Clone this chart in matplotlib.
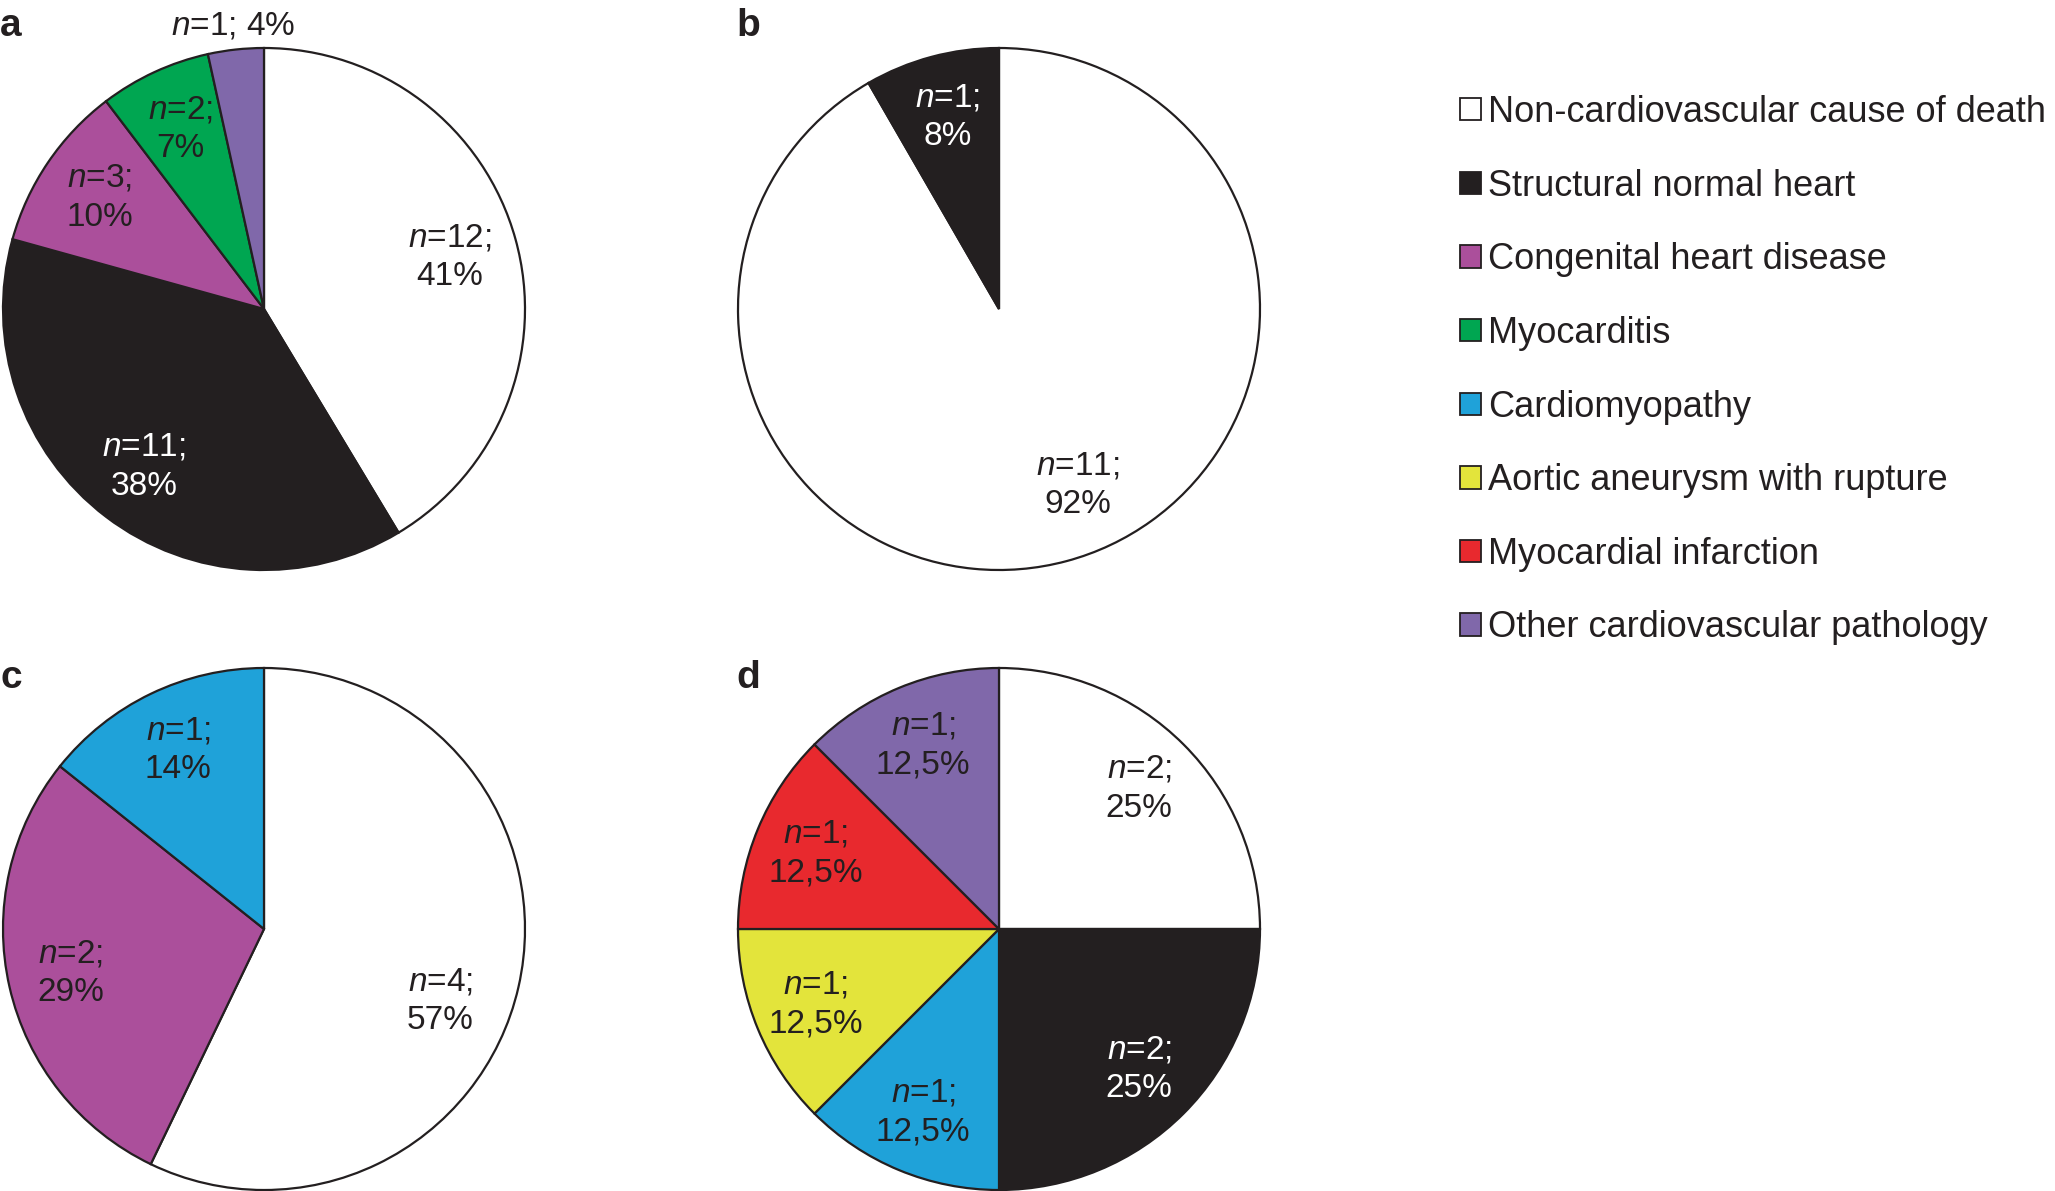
import numpy as np
import matplotlib
matplotlib.use("Agg")
import matplotlib.pyplot as plt
from matplotlib.patches import Patch

plt.rcParams['font.family'] = ['Liberation Sans', 'DejaVu Sans']
plt.rcParams['mathtext.fontset'] = 'custom'
plt.rcParams['mathtext.rm'] = 'Liberation Sans'
plt.rcParams['mathtext.it'] = 'Liberation Sans:italic'

# ---- data ----
categories = ["Non-cardiovascular cause of death", "Structural normal heart",
              "Congenital heart disease", "Myocarditis", "Cardiomyopathy",
              "Aortic aneurysm with rupture", "Myocardial infarction",
              "Other cardiovascular pathology"]
colors = ["#ffffff", "#231f20", "#ab4f9b", "#00a651", "#1fa2d9",
          "#e3e43b", "#e8292e", "#8068aa"]

a_cats = [0, 1, 2, 3, 7]
a_n = [12, 11, 3, 2, 1]
a_pct = ["41", "38", "10", "7", "4"]

b_cats = [0, 1]
b_n = [11, 1]
b_pct = ["92", "8"]

c_cats = [0, 2, 4]
c_n = [4, 2, 1]
c_pct = ["57", "29", "14"]

d_cats = [0, 1, 4, 5, 6, 7]
d_n = [2, 2, 1, 1, 1, 1]
d_pct = ["25", "25", "12,5", "12,5", "12,5", "12,5"]

panels = [("a", a_cats, a_n, a_pct), ("b", b_cats, b_n, b_pct),
          ("c", c_cats, c_n, c_pct), ("d", d_cats, d_n, d_pct)]

# ---- layout ----
W, H = 2055, 1191
centers = [(264, 309), (999, 309), (264, 929), (999, 929)]
R = 261
L = 1.3
letter_pos = [(0, 36), (736, 36), (0, 688), (736, 688)]
# label angle nudges (degrees) / distances for a few large slices
angle_nudge = {("b", 0): 9.0, ("c", 0): -9.4}
dist_override = {("b", 0): 0.74, ("c", 0): 0.73, ("a", 0): 0.74}
txtcol = "#231f20"

fig = plt.figure(figsize=(W / 100, H / 100), dpi=100)
fig.patch.set_facecolor("white")

for (letter, cats, ns, pcts), (cx, cy), (lx, ly) in zip(panels, centers, letter_pos):
    ax = fig.add_axes([(cx - L * R) / W, (H - cy - L * R) / H, 2 * L * R / W, 2 * L * R / H])
    cols = [colors[k] for k in cats]
    wedges, _ = ax.pie(ns, colors=cols, startangle=90, counterclock=False, radius=1,
                       wedgeprops=dict(edgecolor=txtcol, linewidth=1.6, clip_on=False))
    ax.set_aspect('equal')
    ax.set_xlim(-L, L)
    ax.set_ylim(-L, L)
    ax.axis('off')
    for i, (w, k, n, p) in enumerate(zip(wedges, cats, ns, pcts)):
        mid_deg = (w.theta1 + w.theta2) / 2 + angle_nudge.get((letter, i), 0.0)
        mid = np.deg2rad(mid_deg)
        tc = "white" if k == 1 else txtcol
        if letter == "a" and k == 7:
            d = 1.09
            s = f"$n$={n}; {p}%"
        else:
            d = dist_override.get((letter, i), 0.76)
            s = f"$n$={n};\n{p}%"
        ax.text(d * np.cos(mid), d * np.sin(mid), s, ha='center', va='center',
                fontsize=24, color=tc, linespacing=1.33, clip_on=False)
    fig.text(lx / W, 1 - ly / H, letter, fontsize=28, fontweight='bold',
             color=txtcol, ha='left', va='baseline')

handles = [Patch(facecolor=c, edgecolor=txtcol, linewidth=1.3) for c in colors]
leg = fig.legend(handles, categories, loc='upper left',
                 bbox_to_anchor=(1460 / W, 1 - 95 / H), bbox_transform=fig.transFigure,
                 frameon=False, fontsize=26, handlelength=0.58, handleheight=0.58,
                 handletextpad=0.2, labelspacing=1.07, borderpad=0, borderaxespad=0)
for t in leg.get_texts():
    t.set_color(txtcol)

fig.savefig("out.png", dpi=100, facecolor="white")
